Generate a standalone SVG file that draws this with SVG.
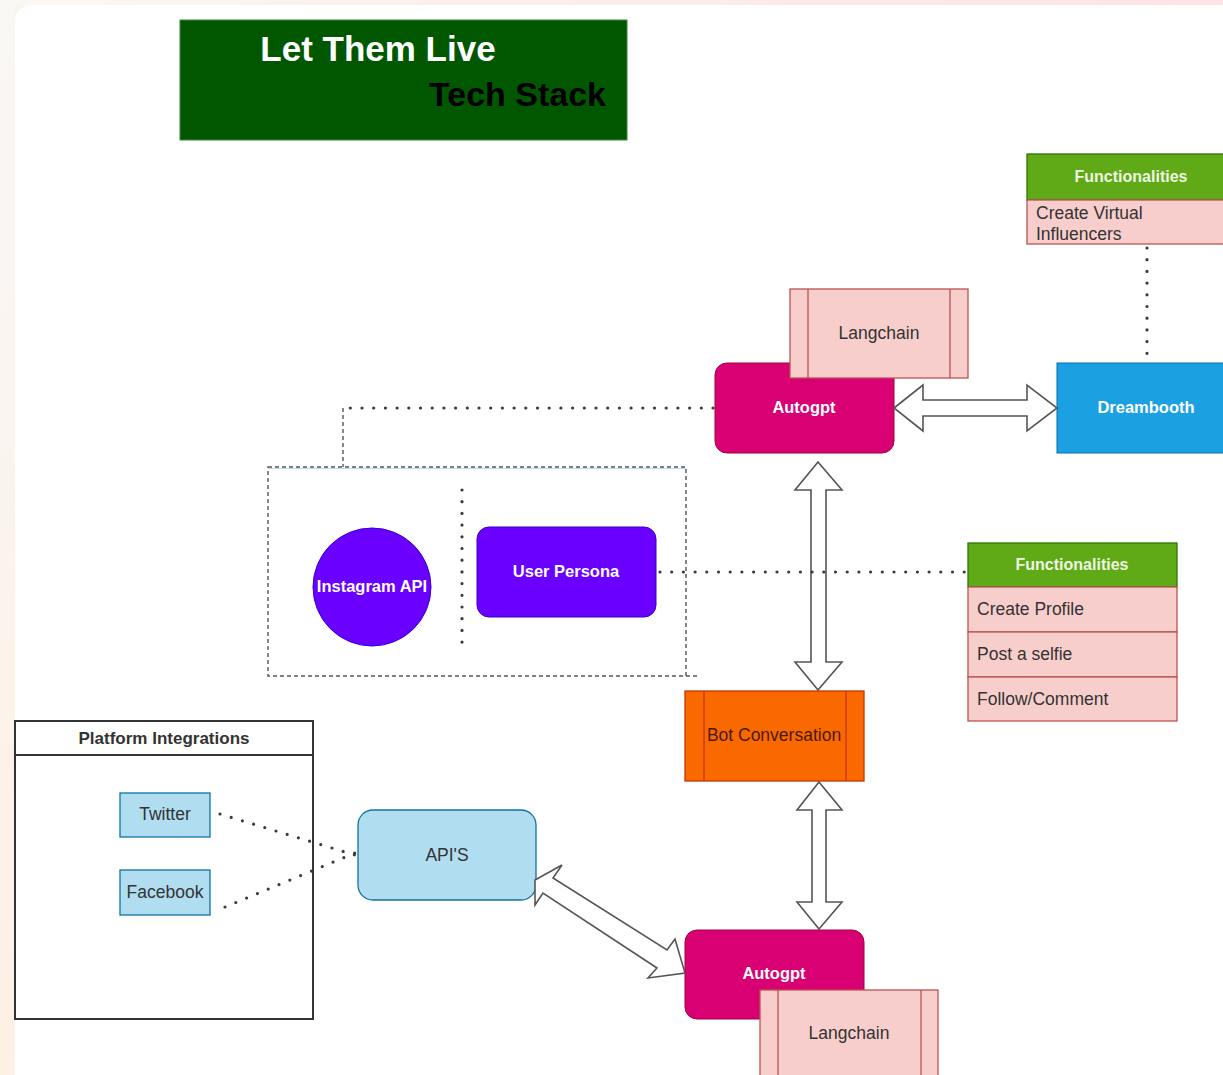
<svg xmlns="http://www.w3.org/2000/svg" width="1223" height="1075" viewBox="0 0 1223 1075">
<defs>
<linearGradient id="gTop" x1="0" y1="0" x2="1" y2="0"><stop offset="0" stop-color="#faf8f5"/><stop offset="1" stop-color="#fde2e6"/></linearGradient>
<linearGradient id="gLeft" x1="0" y1="0" x2="0" y2="1"><stop offset="0" stop-color="#faf8f5"/><stop offset="1" stop-color="#fdf0e5"/></linearGradient>
</defs>
<style>
text{font-family:"Liberation Sans",Arial,sans-serif;}
.b{font-weight:bold;font-size:16.5px;fill:#ffffff;text-anchor:middle;}
.r{font-size:17.5px;fill:#333333;}
.c{text-anchor:middle;}
.pink{fill:#f8cecc;stroke:#b85450;stroke-width:1.3;}
.green{fill:#60a917;stroke:#2d7600;stroke-width:1.3;}
.mag{fill:#d80073;stroke:#a50040;stroke-width:1;}
.purp{fill:#6a00ff;stroke:#3700cc;stroke-width:1;}
.blue{fill:#b1ddf0;stroke:#10739e;stroke-width:1.3;}
.dot{fill:none;stroke:#3a3a3a;stroke-width:3.2;stroke-linecap:round;stroke-dasharray:0 11.7;}
.dash{fill:none;stroke:#555;stroke-width:1.4;stroke-dasharray:4 3;}
.arr{fill:#ffffff;stroke:#555;stroke-width:1.6;stroke-linejoin:miter;}
.fh{font-weight:bold;font-size:16px;fill:#eef8e0;text-anchor:middle;}
</style>
<rect x="0" y="0" width="1223" height="1075" fill="#fbf3ee"/>
<rect x="0" y="0" width="1223" height="6" fill="url(#gTop)"/>
<rect x="0" y="0" width="15" height="1075" fill="url(#gLeft)"/>
<rect x="15" y="5" width="1260" height="1120" rx="16" fill="#ffffff"/>

<g id="title">
<rect x="180" y="20" width="447" height="120" fill="#005700" stroke="#3a8a3a" stroke-width="1"/>
<text x="378" y="61" font-size="35" font-weight="bold" fill="#ffffff" text-anchor="middle">Let Them Live</text>
<text x="606" y="106" font-size="34" font-weight="bold" fill="#000000" text-anchor="end">Tech Stack</text>
</g>

<g id="container">
<rect class="dash" x="268" y="467" width="418" height="209"/>
<line x1="268" y1="468.5" x2="686" y2="468.5" stroke="#a9d3ea" stroke-width="1" opacity="0.8"/>
<line class="dash" x1="686" y1="676" x2="700" y2="676"/>
</g>

<g id="platform-integrations">
<rect x="15" y="721" width="298" height="298" fill="#ffffff" stroke="#333" stroke-width="2"/>
<line x1="15" y1="755" x2="313" y2="755" stroke="#333" stroke-width="2"/>
<text x="164" y="744" font-size="17" font-weight="bold" fill="#333" text-anchor="middle">Platform Integrations</text>
</g>

<g id="func-top">
<rect class="green" x="1027" y="154" width="200" height="46"/>
<text class="fh" x="1131" y="182">Functionalities</text>
<rect class="pink" x="1027" y="200" width="200" height="44"/>
<text class="r" x="1036" y="219">Create Virtual</text>
<text class="r" x="1036" y="240">Influencers</text>
</g>

<g id="autogpt-top">
<rect class="mag" x="715" y="363" width="179" height="90" rx="12"/>
<text class="b" x="804" y="413">Autogpt</text>
</g>

<g id="langchain-top">
<rect class="pink" x="790" y="289" width="178" height="89"/>
<line x1="808" y1="289" x2="808" y2="378" stroke="#b85450" stroke-width="1.3"/>
<line x1="950" y1="289" x2="950" y2="378" stroke="#b85450" stroke-width="1.3"/>
<text class="r c" x="879" y="339">Langchain</text>
</g>

<g id="dreambooth">
<rect x="1057" y="363" width="170" height="90" fill="#1ba1e2" stroke="#006eaf" stroke-width="1"/>
<text class="b" x="1146" y="413">Dreambooth</text>
</g>

<g id="instagram-api">
<circle class="purp" cx="372" cy="587" r="59"/>
<text class="b" x="372" y="592">Instagram API</text>
</g>

<g id="user-persona">
<rect class="purp" x="477" y="527" width="179" height="90" rx="12"/>
<text class="b" x="566" y="577">User Persona</text>
</g>

<g id="func-mid">
<rect class="green" x="968" y="543" width="209" height="44"/>
<text class="fh" x="1072" y="570">Functionalities</text>
<rect class="pink" x="968" y="587" width="209" height="45"/>
<text class="r" x="977" y="615">Create Profile</text>
<rect class="pink" x="968" y="632" width="209" height="45"/>
<text class="r" x="977" y="660">Post a selfie</text>
<rect class="pink" x="968" y="677" width="209" height="44"/>
<text class="r" x="977" y="705">Follow/Comment</text>
</g>

<g id="bot-conversation">
<rect x="685" y="691" width="179" height="90" fill="#fa6800" stroke="#c73500" stroke-width="1.3"/>
<line x1="704" y1="691" x2="704" y2="781" stroke="#c73500" stroke-width="1.3"/>
<line x1="846" y1="691" x2="846" y2="781" stroke="#c73500" stroke-width="1.3"/>
<text class="r c" x="774" y="741" style="fill:#4a1a00">Bot Conversation</text>
</g>

<g id="autogpt-bottom">
<rect class="mag" x="685" y="930" width="179" height="89" rx="12"/>
<text class="b" x="774" y="979">Autogpt</text>
</g>

<g id="langchain-bottom">
<rect class="pink" x="760" y="990" width="178" height="100"/>
<line x1="778" y1="990" x2="778" y2="1090" stroke="#b85450" stroke-width="1.3"/>
<line x1="921" y1="990" x2="921" y2="1090" stroke="#b85450" stroke-width="1.3"/>
<text class="r c" x="849" y="1039">Langchain</text>
</g>

<g id="apis">
<rect class="blue" x="358" y="810" width="178" height="90" rx="15"/>
<text class="r c" x="447" y="861">API'S</text>
</g>

<g id="twitter">
<rect class="blue" x="120" y="793" width="90" height="44"/>
<text class="r c" x="165" y="820">Twitter</text>
</g>

<g id="facebook">
<rect class="blue" x="120" y="870" width="90" height="45"/>
<text class="r c" x="165" y="898">Facebook</text>
</g>

<g id="connectors">
<polygon class="arr" points="894,408 923,385 923,400 1027,400 1027,385 1057,408 1027,431 1027,416 923,416 923,431"/>
<polygon class="arr" points="818,462 842,490 826,490 826,662 842,662 818,690 795,662 811,662 811,490 795,490"/>
<polygon class="arr" points="819,782 842,810 826,810 826,902 842,902 819,929 797,902 812,902 812,810 797,810"/>
<polygon class="arr" points="535,880 562,865 553,878 667,950 675,939 685,973 648,978 657,968 543,893 535,905"/>
<polyline class="dot" points="713,408 343,408"/>
<polyline class="dash" points="343,408 343,467"/>
<line class="dot" x1="1147" y1="248" x2="1147" y2="356"/>
<line class="dot" x1="462" y1="490" x2="462" y2="646"/>
<line class="dot" x1="660" y1="572" x2="968" y2="572"/>
<line class="dot" x1="220" y1="814" x2="355" y2="855"/>
<line class="dot" x1="225" y1="907" x2="355" y2="853"/>
</g>
</svg>
